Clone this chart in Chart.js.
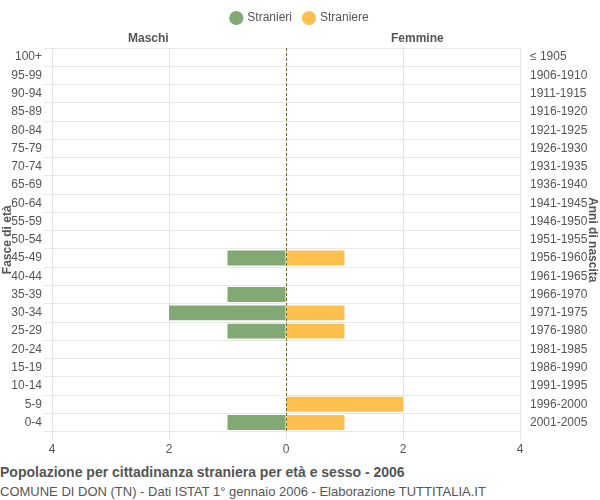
<!DOCTYPE html>
<html><head><meta charset="utf-8">
<script src="https://cdn.jsdelivr.net/npm/chart.js@4/dist/chart.umd.min.js"></script>
<style>
body{margin:0;font-family:Arial,"Liberation Sans",sans-serif;}
#w{position:relative;width:600px;height:500px;}
canvas{position:absolute;left:0;top:0;}
.t{position:absolute;white-space:nowrap;}
</style></head><body>
<div id="w"><canvas id="c" width="600" height="460" style="width:600px;height:460px"></canvas>
<div class="t" style="left:128px;top:31px;font-size:12px;font-weight:bold;color:#555">Maschi</div>
<div class="t" style="left:391px;top:31px;font-size:12px;font-weight:bold;color:#555">Femmine</div>
<div class="t" style="left:0;top:464px;font-size:14px;font-weight:bold;color:#555">Popolazione per cittadinanza straniera per età e sesso - 2006</div>
<div class="t" style="left:0;top:484px;font-size:13px;color:#555">COMUNE DI DON (TN) - Dati ISTAT 1° gennaio 2006 - Elaborazione TUTTITALIA.IT</div>
</div>
<script>
const ageGroups=["100+","95-99","90-94","85-89","80-84","75-79","70-74","65-69","60-64","55-59","50-54","45-49","40-44","35-39","30-34","25-29","20-24","15-19","10-14","5-9","0-4"];
const birthYears=["≤ 1905","1906-1910","1911-1915","1916-1920","1921-1925","1926-1930","1931-1935","1936-1940","1941-1945","1946-1950","1951-1955","1956-1960","1961-1965","1966-1970","1971-1975","1976-1980","1981-1985","1986-1990","1991-1995","1996-2000","2001-2005"];
const males=[0,0,0,0,0,0,0,0,0,0,0,1,0,1,2,1,0,0,0,0,1];
const females=[0,0,0,0,0,0,0,0,0,0,0,1,0,0,1,1,0,0,0,2,1];
const zeroLine={id:'z',afterDatasetsDraw(ch){const x=ch.scales.x.getPixelForValue(0),a=ch.chartArea,c=ch.ctx;c.save();c.strokeStyle='#6b6b2a';c.setLineDash([3,2]);c.lineWidth=1;c.beginPath();c.moveTo(x+0.5,a.top);c.lineTo(x+0.5,a.bottom);c.stroke();c.restore();}};
new Chart(document.getElementById('c'),{type:'bar',
data:{labels:ageGroups,datasets:[
{label:'Stranieri',data:males.map(v=>-v),backgroundColor:'#82a873',yAxisID:'y'},
{label:'Straniere',data:females,backgroundColor:'#fdbf4d',yAxisID:'y'}]},
options:{indexAxis:'y',responsive:false,animation:false,
layout:{padding:{top:0,right:0,bottom:0,left:0}},
plugins:{legend:{labels:{usePointStyle:true,pointStyle:'circle',boxWidth:10,boxHeight:10,color:'#555',font:{size:12},padding:12}},tooltip:{enabled:false}},
datasets:{bar:{categoryPercentage:0.82,barPercentage:1}},
scales:{
x:{stacked:true,min:-4,max:4,ticks:{stepSize:2,color:'#555',font:{size:12},callback:v=>Math.abs(v)},grid:{color:'#e4e4e4'},border:{display:false}},
y:{stacked:true,position:'left',afterFit(s){s.width=52;},ticks:{color:'#555',font:{size:12},autoSkip:false,padding:2},grid:{color:'#e8e8e8'},border:{display:false},
 title:{display:true,text:'Fasce di età',color:'#555',font:{size:12,weight:'bold'},padding:0}},
y2:{position:'right',type:'category',labels:birthYears,afterFit(s){s.width=80;},ticks:{color:'#555',font:{size:12},autoSkip:false,padding:2},grid:{display:false},border:{display:false},
 title:{display:true,text:'Anni di nascita',color:'#555',font:{size:12,weight:'bold'},padding:0}}
}},plugins:[zeroLine,{id:'lp',beforeInit(ch){const f=ch.legend.fit;ch.legend.fit=function(){f.call(this);this.height+=14;};}}]});
</script></body></html>
